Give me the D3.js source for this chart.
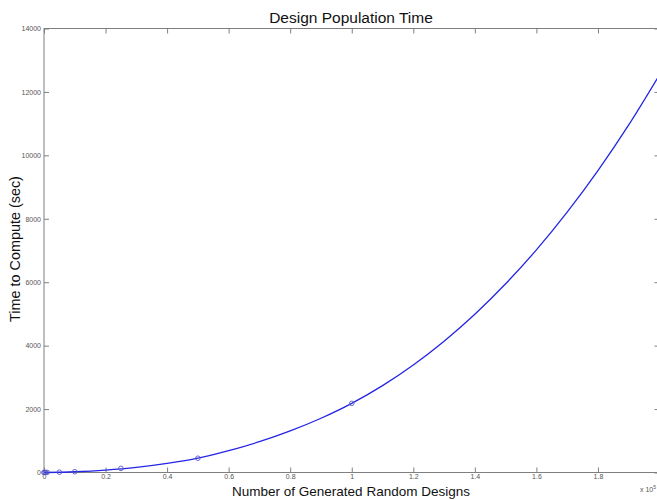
<!DOCTYPE html>
<html>
<head>
<meta charset="utf-8">
<script src="https://cdn.jsdelivr.net/npm/d3@7"></script>
<style>
	body { margin: 0; background: #fff; }
	svg { display: block; font-family: 'Liberation Sans', Arial, sans-serif; }
</style>
</head>
<body>
<svg width="657" height="500"></svg>
<script>
'use strict'

// Fitted curve, x in units of 10^5 designs, y in seconds
const curveX = [0, 0.1, 0.2, 0.3, 0.4, 0.5, 0.6, 0.7, 0.8, 0.9, 1.0, 1.1, 1.2, 1.3, 1.4, 1.5, 1.6, 1.7, 1.8, 1.9, 2.0]
const curveY = [0, 24, 75, 159, 285, 450, 690, 970, 1310, 1710, 2180, 2740, 3390, 4140, 4990, 5950, 7020, 8210, 9520, 10960, 12540]
// Measured samples (circle markers)
const sampleX = [0, 0.001, 0.005, 0.01, 0.05, 0.1, 0.25, 0.5, 1.0]
const sampleY = [0, 1, 2, 4, 10, 25, 130, 450, 2180]
const xTicks = [0, 0.2, 0.4, 0.6, 0.8, 1, 1.2, 1.4, 1.6, 1.8]
const yTicks = [0, 2000, 4000, 6000, 8000, 10000, 12000, 14000]

const svg = d3.select('svg')
const M = { left: 44, right: 659.5, top: 28.5, bottom: 472.5 }
const AXIS = '#7f7f7f'
const LABEL = '#555'
const LINE = '#2424e6'

const x = d3.scaleLinear().domain([0, 2]).range([M.left, M.right])
const y = d3.scaleLinear().domain([0, 14000]).range([M.bottom, M.top])

// Box
svg.append('rect')
	.attr('x', M.left).attr('y', M.top)
	.attr('width', M.right - M.left).attr('height', M.bottom - M.top)
	.attr('fill', 'none').attr('stroke', AXIS).attr('stroke-width', 1)

// Bottom axis, inward ticks
const xAxis = svg.append('g').attr('transform', `translate(0,${M.bottom})`)
	.call(d3.axisBottom(x).tickValues(xTicks).tickSize(-5).tickPadding(3).tickFormat(d3.format('')))
xAxis.select('.domain').remove()
xAxis.selectAll('line').attr('stroke', AXIS)
xAxis.selectAll('text')
	.attr('font-family', 'Liberation Sans, Arial, sans-serif').attr('font-size', 7).attr('fill', LABEL)
	.attr('dy', '0.71em').attr('y', 2)

// Top ticks
svg.append('g').attr('transform', `translate(0,${M.top})`)
	.call(d3.axisTop(x).tickValues(xTicks).tickSize(-5).tickFormat(''))
	.call(g => g.select('.domain').remove())
	.selectAll('line').attr('stroke', AXIS)

// Left axis
const yAxis = svg.append('g').attr('transform', `translate(${M.left},0)`)
	.call(d3.axisLeft(y).tickValues(yTicks).tickSize(-5).tickPadding(3).tickFormat(d3.format('')))
yAxis.select('.domain').remove()
yAxis.selectAll('line').attr('stroke', AXIS)
yAxis.selectAll('text')
	.attr('font-family', 'Liberation Sans, Arial, sans-serif').attr('font-size', 7).attr('fill', LABEL)

// Right ticks
svg.append('g').attr('transform', `translate(${M.right},0)`)
	.call(d3.axisRight(y).tickValues(yTicks).tickSize(-5).tickFormat(''))
	.call(g => g.select('.domain').remove())
	.selectAll('line').attr('stroke', AXIS)

// Exponent label
const ex = svg.append('text')
	.attr('font-size', 7).attr('fill', LABEL)
	.attr('x', 640).attr('y', 492)
ex.append('tspan').text('x 10')
ex.append('tspan').attr('dy', -3).attr('font-size', 5).text('5')

// Curve
const fit = curveX.map((d, i) => [d, curveY[i]])
svg.append('path')
	.datum(fit)
	.attr('fill', 'none')
	.attr('stroke', LINE)
	.attr('stroke-width', 1.3)
	.attr('d', d3.line().x(d => x(d[0])).y(d => y(d[1])).curve(d3.curveMonotoneX))

// Sample markers
const samples = sampleX.map((d, i) => [d, sampleY[i]])
svg.append('g').selectAll('circle')
	.data(samples)
	.enter().append('circle')
	.attr('cx', d => x(d[0]))
	.attr('cy', d => y(d[1]))
	.attr('r', 2.3)
	.attr('fill', 'none')
	.attr('stroke', '#5858c8')
	.attr('stroke-width', 0.9)

// Titles
svg.append('text')
	.attr('x', 351).attr('y', 23)
	.attr('text-anchor', 'middle')
	.attr('font-size', 15.5)
	.attr('fill', '#111')
	.text('Design Population Time')

svg.append('text')
	.attr('x', 351).attr('y', 496)
	.attr('text-anchor', 'middle')
	.attr('font-size', 13.5)
	.attr('fill', '#111')
	.text('Number of Generated Random Designs')

svg.append('text')
	.attr('transform', 'translate(20,249) rotate(-90)')
	.attr('text-anchor', 'middle')
	.attr('font-size', 14.4)
	.attr('fill', '#111')
	.text('Time to Compute (sec)')
</script>
</body>
</html>
